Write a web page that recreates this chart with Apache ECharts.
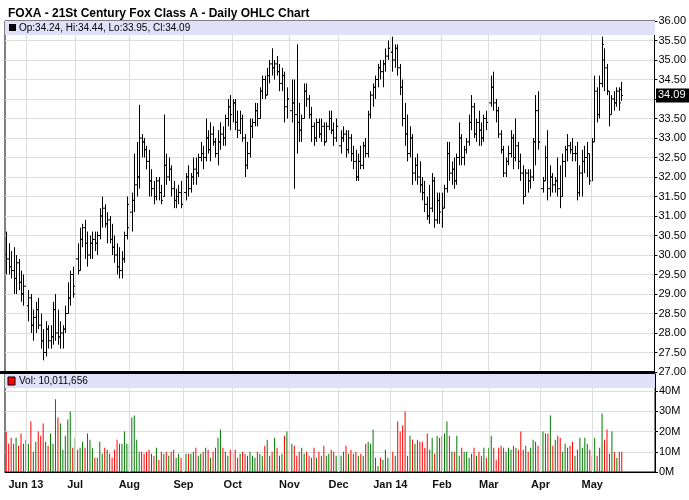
<!DOCTYPE html>
<html><head><meta charset="utf-8">
<script src="https://cdn.jsdelivr.net/npm/echarts@6/dist/echarts.min.js"></script>
<style>html,body{margin:0;padding:0;background:#fff}#c{width:689px;height:500px}</style>
</head><body><div id="c"></div>
<script>
// OHLC per month: [open, high, low, close]
const may13=[[30.0,30.6,29.5,29.9],[29.9,30.3,29.5,29.7],[29.7,30.1,29.4,29.6],[29.6,30.2,29.0,29.4],[29.4,30.0,29.0,29.8],[29.8,29.9,29.1,29.3],[29.3,29.6,28.8,29.0],[29.0,29.5,28.7,29.2]];
const jun13=[[29.2,29.6,28.5,28.7],[28.7,29.1,28.3,28.9],[28.9,29.0,28.0,28.2],[28.2,28.6,27.8,28.4],[28.4,28.8,28.0,28.6],[28.6,28.9,28.1,28.2],[28.2,28.5,27.6,27.8],[27.8,28.1,27.3,27.5],[27.5,28.3,27.4,28.1],[28.1,28.2,27.6,27.8],[27.8,28.2,27.6,27.9],[27.9,28.8,27.7,28.6],[28.6,29.0,27.8,28.0],[28.0,28.6,27.7,27.9],[27.9,28.3,27.6,28.0],[28.0,28.2,27.6,28.1],[28.1,28.7,28.0,28.5],[28.5,29.3,28.5,28.9],[28.9,29.6,28.7,29.5],[29.5,29.7,28.9,29.0]];
const jul13=[[29.2,30.0,29.1,29.9],[29.9,30.3,29.5,29.6],[29.6,30.7,29.6,30.4],[30.4,30.8,30.2,30.7],[30.7,30.9,29.9,30.3],[30.3,30.6,29.7,30.0],[30.0,30.5,29.9,30.3],[30.3,30.6,29.9,30.4],[30.4,30.6,30.1,30.3],[30.3,30.6,30.0,30.5],[30.5,31.2,30.4,31.0],[31.0,31.5,30.7,31.2],[31.2,31.3,30.7,30.8],[30.8,31.1,30.3,30.9],[30.9,31.0,30.3,30.4],[30.4,30.8,30.0,30.2],[30.2,30.5,29.8,30.0],[30.0,30.3,29.5,29.7],[29.7,30.2,29.4,29.6],[29.6,30.1,29.4,29.9],[29.9,30.6,29.8,30.5],[30.5,31.5,30.4,31.3]];
const aug13=[[30.7,31.2,30.6,31.1],[31.1,31.6,30.6,31.4],[31.4,32.6,31.1,31.8],[31.8,32.9,31.5,32.0],[32.0,33.85,31.7,33.0],[33.0,33.1,32.5,32.9],[32.9,33.0,32.5,32.7],[32.7,32.8,32.2,32.4],[32.4,32.7,31.5,31.9],[31.9,32.2,31.5,31.7],[31.7,31.9,31.3,31.5],[31.5,32.0,31.4,31.9],[31.9,32.0,31.4,31.6],[31.6,31.8,31.3,31.4],[31.5,33.6,31.5,32.3],[32.3,32.6,31.8,32.0],[32.0,32.5,31.9,32.2],[32.2,32.3,31.5,31.7],[31.7,31.9,31.2,31.4],[31.4,31.7,31.2,31.5],[31.5,31.8,31.3,31.6],[31.6,31.9,31.2,31.3]];
const sep13=[[31.3,32.0,31.1,31.6],[31.6,32.1,31.4,32.0],[32.0,32.3,31.5,31.7],[31.7,32.1,31.6,32.0],[32.0,32.5,31.8,32.2],[32.2,32.5,31.8,32.1],[32.1,32.6,32.0,32.5],[32.5,32.9,32.4,32.6],[32.6,32.8,32.2,32.5],[32.5,33.5,32.4,33.0],[33.0,33.2,32.6,32.7],[32.7,33.4,32.4,33.1],[33.1,33.3,32.8,32.9],[32.9,33.0,32.5,32.6],[32.6,33.2,32.3,32.9],[32.9,33.4,32.7,33.1],[33.1,33.3,32.8,33.0],[33.0,33.6,32.8,33.5],[33.5,34.0,33.3,33.8],[33.8,34.1,33.2,33.6]];
const oct13=[[33.6,34.0,33.4,33.9],[33.9,34.0,33.2,33.4],[33.4,33.7,33.0,33.2],[33.2,33.7,33.1,33.5],[33.5,33.6,32.9,33.0],[33.0,33.1,32.0,32.3],[32.3,32.9,32.2,32.6],[32.6,33.5,32.5,33.3],[33.3,33.5,33.0,33.4],[33.4,33.9,33.3,33.7],[33.7,33.9,33.3,33.5],[33.5,34.3,33.5,34.2],[34.2,34.6,34.0,34.5],[34.5,34.6,34.0,34.1],[34.1,34.8,34.1,34.6],[34.6,35.0,34.4,34.9],[34.9,35.3,34.6,34.8],[34.8,35.0,34.5,34.9],[34.9,35.1,34.6,34.7],[34.7,34.9,34.2,34.4],[34.4,34.8,34.2,34.6],[34.6,34.7,33.4,33.8],[33.8,34.3,33.5,34.0]];
const nov13=[[34.0,34.1,33.5,33.7],[33.7,34.5,33.4,33.9],[33.9,34.5,31.7,33.6],[33.6,35.4,32.6,33.4],[33.4,33.9,32.9,33.2],[33.2,33.6,32.9,33.5],[33.5,34.4,33.5,34.2],[34.2,34.4,33.8,34.0],[34.0,34.1,33.5,33.6],[33.6,33.8,32.9,33.3],[33.3,33.4,32.8,33.0],[33.0,33.5,32.9,33.4],[33.4,33.5,33.0,33.1],[33.1,33.5,32.9,33.3],[33.3,33.4,32.8,32.9],[32.9,33.4,32.9,33.3],[33.3,33.7,33.2,33.5],[33.5,33.7,33.1,33.2],[33.2,33.4,32.8,33.0],[33.0,33.5,32.9,33.3]];
const dec13=[[33.3,33.4,32.7,32.8],[32.8,33.2,32.6,33.0],[33.0,33.3,32.9,33.1],[33.1,33.2,32.5,32.7],[32.7,33.2,32.6,33.0],[33.0,33.1,32.4,32.6],[32.6,32.8,32.2,32.4],[32.4,32.7,31.9,32.0],[32.0,32.6,31.9,32.4],[32.4,32.8,32.2,32.3],[32.3,32.9,32.2,32.8],[32.8,33.0,32.5,32.6],[32.6,33.7,32.5,33.6],[33.6,34.2,33.5,34.1],[34.1,34.4,33.8,34.3],[34.3,34.6,34.0,34.5],[34.5,34.9,34.3,34.8],[34.8,35.0,34.5,34.7],[34.7,35.0,34.3,34.9],[34.9,35.3,34.7,35.1],[35.1,35.5,35.0,35.3]];
const jan14=[[35.3,35.75,35.1,35.2],[35.2,35.6,34.7,35.0],[35.0,35.4,34.8,35.3],[35.3,35.4,34.6,34.8],[34.8,34.9,34.1,34.3],[34.3,34.5,33.3,33.5],[33.5,33.9,32.8,33.1],[33.1,33.6,32.4,32.6],[32.6,33.3,32.5,33.0],[33.0,33.1,31.8,32.1],[32.1,32.5,31.9,32.3],[32.3,32.6,31.8,32.0],[32.0,32.4,31.6,31.8],[31.8,32.0,31.4,31.6],[31.6,31.9,31.1,31.3],[31.3,31.5,30.9,31.0],[31.0,31.8,30.8,31.2],[31.2,32.1,31.1,31.9],[31.9,32.0,30.7,30.9],[30.9,31.6,30.8,31.4],[31.4,31.6,30.8,31.1]];
const feb14=[[31.1,31.6,30.7,31.2],[31.2,31.8,31.2,31.7],[31.7,32.9,31.6,32.6],[32.6,32.9,31.9,32.1],[32.1,32.4,31.8,32.2],[32.2,32.5,31.7,31.9],[31.9,32.6,31.8,32.5],[32.5,33.4,32.3,33.0],[33.0,33.1,32.3,32.5],[32.5,32.8,32.3,32.7],[32.7,33.0,32.6,32.9],[32.9,33.6,32.8,33.4],[33.4,34.1,33.2,33.8],[33.8,33.9,33.0,33.1],[33.1,33.5,32.9,33.4],[33.4,33.7,32.8,33.2],[33.2,33.4,32.8,33.0],[33.0,33.6,32.9,33.5],[33.5,33.7,33.2,33.4]];
const mar14=[[33.4,34.1,33.4,33.9],[33.9,34.6,33.8,34.3],[34.3,34.7,33.7,33.9],[33.9,34.0,33.4,33.7],[33.7,33.8,33.0,33.1],[33.1,33.2,32.6,32.7],[32.7,32.8,32.0,32.1],[32.1,32.5,32.0,32.4],[32.4,32.8,32.3,32.6],[32.6,33.2,32.5,33.0],[33.0,33.1,32.2,32.5],[32.5,33.5,32.4,32.8],[32.8,32.9,32.2,32.4],[32.4,32.6,31.9,32.1],[32.1,32.3,31.3,31.5],[31.5,32.2,31.5,32.1],[32.1,32.2,31.6,31.9],[31.9,32.2,31.7,32.0],[32.0,33.0,31.9,32.9],[32.9,34.1,32.3,33.7],[33.7,34.2,32.7,32.9]];
const apr14=[[32.9,33.0,31.4,31.7],[31.7,32.0,31.6,31.9],[31.9,32.8,31.9,32.5],[32.5,33.2,31.4,31.7],[31.7,32.3,31.5,32.0],[32.0,32.1,31.6,31.8],[31.8,32.0,31.6,31.9],[31.9,32.5,31.5,31.7],[31.7,32.3,31.2,31.5],[31.5,32.6,31.5,32.4],[32.4,32.8,32.0,32.7],[32.7,33.1,32.4,32.8],[32.8,32.9,32.6,32.7],[32.7,33.0,32.4,32.6],[32.6,32.8,32.4,32.6],[32.6,32.9,31.4,31.6],[31.6,32.3,31.5,32.1],[32.1,32.7,31.5,32.4],[32.4,32.8,32.1,32.5],[32.5,32.9,32.0,32.6],[32.6,32.6,31.8,31.9]];
const may14=[[31.9,33.0,31.9,32.9],[32.9,34.6,32.9,34.2],[34.2,34.3,33.4,33.6],[33.6,34.6,33.5,34.4],[34.4,35.6,34.3,35.4],[35.0,35.3,34.2,34.8],[34.8,34.9,34.1,34.2],[34.2,34.2,33.3,33.6],[33.6,34.1,33.6,34.0],[34.0,34.2,33.7,33.9],[33.9,34.3,33.8,34.2],[34.2,34.3,33.7,33.9],[34.24,34.44,33.95,34.09]];
// Volume (millions) per month
const volMay13=[20,14,17,14,17,13,19,14];
const volJun13=[16,14,25,10,15,20,18,24,15,13,19,14,36,27,24,11,18,26,30,12];
const volJul13=[17,11,12,15,12,19,16,12,7,7,15,9,12,11,9,7,11,16,14,14,20,14];
const volAug13=[14,27,28,16,10,10,9,10,11,9,8,12,6,10,9,10,8,10,11,7,9,7];
const volSep13=[8,9,9,9,10,12,8,9,10,12,11,7,10,12,17,21,12,10,8,11];
const volOct13=[9,11,7,9,10,9,8,10,8,7,10,9,8,13,16,8,10,17,12,8,9,18,20];
const volNov13=[11,14,13,8,10,12,9,10,8,7,12,7,10,8,13,8,9,11,10,8];
const volDec13=[9,8,10,13,9,11,9,10,8,9,8,14,15,14,21,7,3,7,6,11,7];
const volJan14=[6,10,8,25,20,23,30,8,18,16,14,16,15,15,12,19,11,17,9,18,17];
const volFeb14=[18,19,25,18,10,10,18,8,12,10,10,7,9,12,8,10,8,12,7];
const volMar14=[12,18,12,6,12,13,12,10,12,11,13,12,11,20,11,13,10,12,16,15,13];
const volApr14=[12,20,19,19,28,13,16,18,17,10,14,12,13,15,8,11,17,12,17,14,11];
const volMay14=[8,17,8,12,29,16,21,9,20,10,7,10,10.011656];
const startDate='2013-05-21';
const holidays=['2013-05-27','2013-07-04','2013-09-02','2013-11-28','2013-12-25','2014-01-01','2014-01-20','2014-02-17','2014-04-18'];
const padSlots=13;
const priceTicks={min:27,max:36,step:0.5};
const monthNames=['Jan','Feb','Mar','Apr','May','Jun','Jul','Aug','Sep','Oct','Nov','Dec'];

const ohlc=[].concat(may13,jun13,jul13,aug13,sep13,oct13,nov13,dec13,jan14,feb14,mar14,apr14,may14);
const vol=[].concat(volMay13,volJun13,volJul13,volAug13,volSep13,volOct13,volNov13,volDec13,volJan14,volFeb14,volMar14,volApr14,volMay14);
const n=Math.min(ohlc.length,vol.length);
const cats=[];
let d=new Date(startDate+'T12:00:00Z');
while(cats.length<n){
  const dow=d.getUTCDay(); const s=d.toISOString().slice(0,10);
  if(dow!==0&&dow!==6&&holidays.indexOf(s)<0) cats.push(s);
  d=new Date(d.getTime()+86400000);
}
for(let i=0;i<padSlots;i++) cats.push('pad'+i);
const monthStart={}; const monthIdx=[];
for(let i=1;i<n;i++){ if(cats[i].slice(5,7)!==cats[i-1].slice(5,7)){ monthStart[i]=true; monthIdx.push(i);} }
function lab(v){ if(!v||v.indexOf('pad')===0) return ''; const m=+v.slice(5,7); let s=monthNames[m-1]; if(m===6&&v.slice(0,4)==='2013') s+=' 13'; if(m===1) s+=' 14'; return s; }
const ohlcData=ohlc.slice(0,n).map((r,i)=>[i,r[0],r[1],r[2],r[3]]);
const volData=vol.slice(0,n).map((v,i)=>({value:v,itemStyle:{color:ohlc[i][3]>=ohlc[i][0]?'#007a00':'#ff0000'}}));
const last=ohlc[n-1];

const chart=echarts.init(document.getElementById('c'));
const grid1={left:5,right:34,top:21,height:351,show:true,borderColor:'#000',borderWidth:1};
const grid2={left:5,right:34,top:374,height:98,show:true,borderColor:'#000',borderWidth:1};
function xAx(gi,showLab){
  return {type:'category',gridIndex:gi,data:cats,boundaryGap:true,
    axisTick:{show:false},
    axisLine:{show:gi===1,lineStyle:{color:'#000'}},
    axisLabel:{show:showLab,interval:0,formatter:(v,i)=>monthStart[i]?lab(v):'',fontFamily:'Liberation Sans',fontSize:11,fontWeight:'bold',color:'#111',margin:7,hideOverlap:false},
    splitLine:{show:false}};
}
function vLines(xi,yi){
  return {type:'line',xAxisIndex:xi,yAxisIndex:yi,data:[],z:1,silent:true,
    markLine:{silent:true,symbol:'none',label:{show:false},animation:false,
      lineStyle:{color:'#dddddd',type:'solid',width:1},
      data:monthIdx.map(i=>({xAxis:i}))}};
}
chart.setOption({
  animation:false,
  grid:[grid1,grid2],
  title:{text:'FOXA - 21St Century Fox Class A - Daily OHLC Chart',left:3,top:3,textStyle:{fontFamily:'Liberation Sans',fontSize:12,fontWeight:'bold',color:'#000'}},
  xAxis:[xAx(0,false),xAx(1,true)],
  yAxis:[{gridIndex:0,type:'value',position:'right',min:priceTicks.min,max:priceTicks.max,interval:priceTicks.step,
          axisLine:{show:true,lineStyle:{color:'#000'}},axisTick:{show:true,length:3,lineStyle:{color:'#000'}},
          axisLabel:{formatter:v=>v.toFixed(2),fontFamily:'Liberation Sans',fontSize:11,color:'#000',margin:4},
          splitLine:{lineStyle:{color:'#dddddd'}}},
         {gridIndex:1,type:'value',position:'right',min:0,max:48.5,interval:10,
          axisLine:{show:true,lineStyle:{color:'#000'}},axisTick:{show:true,length:3,lineStyle:{color:'#000'}},
          axisLabel:{formatter:v=>v%10===0&&v<=40?v+'M':'',showMaxLabel:false,fontFamily:'Liberation Sans',fontSize:11,color:'#000',margin:4},
          splitLine:{lineStyle:{color:'#dddddd'}}}],
  series:[
    vLines(0,0), vLines(1,1),
    {type:'custom',xAxisIndex:0,yAxisIndex:0,data:ohlcData,encode:{x:0,y:[1,2,3,4]},z:3,
     renderItem:function(params,api){
       const i=api.value(0);
       const o=api.coord([i,api.value(1)]),h=api.coord([i,api.value(2)]),l=api.coord([i,api.value(3)]),c=api.coord([i,api.value(4)]);
       const x=Math.round(o[0])+0.5; const t=1.5;
       const st={stroke:'#000',lineWidth:1};
       return {type:'group',children:[
         {type:'line',shape:{x1:x,y1:h[1],x2:x,y2:l[1]},style:st},
         {type:'line',shape:{x1:x-t,y1:o[1],x2:x,y2:o[1]},style:st},
         {type:'line',shape:{x1:x,y1:c[1],x2:x+t,y2:c[1]},style:st}]};
     }},
    {type:'bar',xAxisIndex:1,yAxisIndex:1,data:volData,barWidth:1,z:3}
  ]
});
const yLast=chart.convertToPixel({yAxisIndex:0},last[3]);
chart.setOption({graphic:[
  {type:'rect',shape:{x:5,y:21,width:650,height:14},style:{fill:'#e0e0f8'},z:10},
  {type:'rect',shape:{x:9,y:24,width:7,height:7},style:{fill:'#000'},z:11},
  {type:'text',x:19,y:23,style:{text:'Op:'+last[0].toFixed(2)+', Hi:'+last[1].toFixed(2)+', Lo:'+last[2].toFixed(2)+', Cl:'+last[3].toFixed(2),fontFamily:'Liberation Sans',fontSize:10,fill:'#000'},z:11},
  {type:'rect',shape:{x:0,y:371,width:655,height:3},style:{fill:'#000'},z:10},
  {type:'rect',shape:{x:5,y:374,width:650,height:14},style:{fill:'#e0e0f8'},z:10},
  {type:'rect',shape:{x:8,y:377,width:7,height:8},style:{fill:'#ff0000',stroke:'#000',lineWidth:1},z:11},
  {type:'text',x:19,y:376,style:{text:'Vol: '+Math.round(vol[n-1]*1e6).toLocaleString('en-US'),fontFamily:'Liberation Sans',fontSize:10,fill:'#000'},z:11},
  {type:'rect',shape:{x:656,y:yLast-7,width:33,height:14},style:{fill:'#000'},z:12},
  {type:'text',x:658,y:yLast-6,style:{text:last[3].toFixed(2),fontFamily:'Liberation Sans',fontSize:11,fill:'#fff'},z:13}
]});
</script></body></html>
